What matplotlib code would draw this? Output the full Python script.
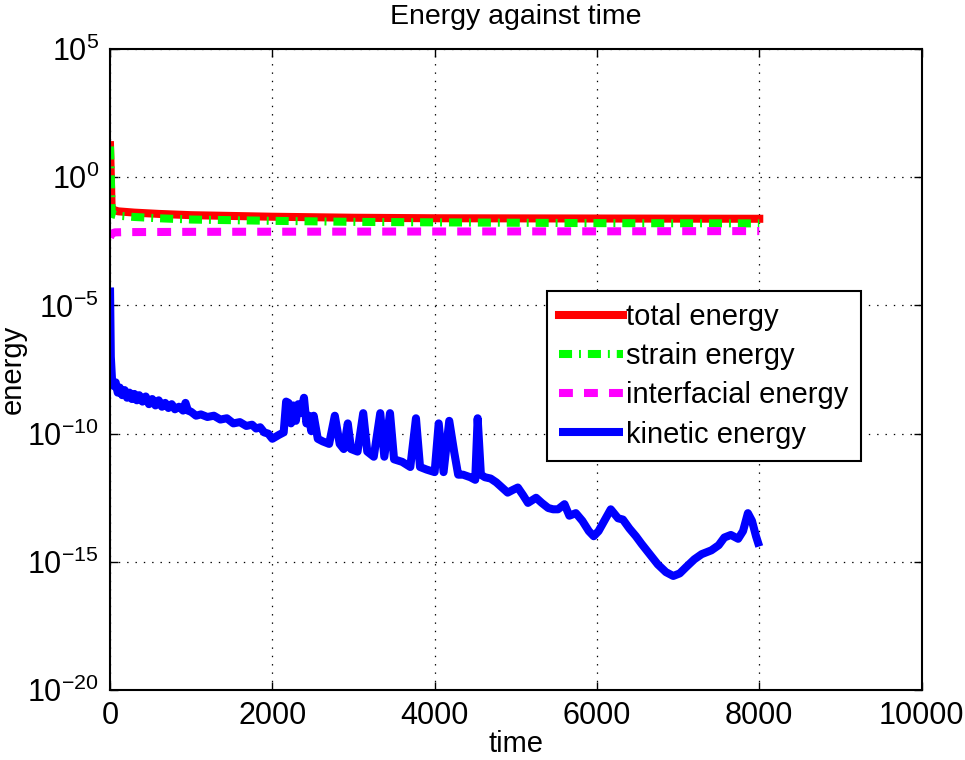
import numpy as np
import matplotlib
matplotlib.use('Agg')
import matplotlib.pyplot as plt
from matplotlib.ticker import FixedLocator, FixedFormatter

plt.rcParams['font.family'] = ['Liberation Sans', 'DejaVu Sans']
plt.rcParams['mathtext.fontset'] = 'custom'
plt.rcParams['mathtext.rm'] = 'Liberation Sans'
plt.rcParams['lines.scale_dashes'] = False

# total / strain / interfacial energy (log10 values)
t_total = [0, 8, 20, 40, 100, 300, 600, 1000, 2000, 3000, 4000, 6000, 8000]
log_total = [1.25, 0.3, -1.2, -1.27, -1.33, -1.38, -1.43, -1.48, -1.54, -1.58, -1.6, -1.61, -1.62]

t_strain = [0, 8, 20, 40, 100, 300, 600, 1000, 2000, 3000, 4000, 6000, 8000]
log_strain = [1.2, 0.2, -1.35, -1.45, -1.5, -1.55, -1.6, -1.65, -1.7, -1.74, -1.76, -1.79, -1.8]

t_inter = [0, 20, 60, 200, 1000, 3000, 6000, 8000]
log_inter = [-2.35, -2.2, -2.15, -2.14, -2.13, -2.12, -2.11, -2.1]

# kinetic energy (log10 values)
t_kin = [0, 10, 25, 50, 70, 95, 120, 150, 180, 210, 240, 270, 300, 330, 360,
         400, 440, 480, 520, 560, 600, 640, 680, 720, 760, 800, 850, 900, 930,
         960, 1000, 1060, 1120, 1200, 1280, 1360, 1440, 1520, 1600, 1680, 1750,
         1800, 1850, 1900, 1950, 2000, 2080, 2140, 2170, 2200, 2230, 2260, 2290,
         2320, 2350, 2390, 2420, 2450, 2480, 2510, 2560, 2620, 2700, 2770, 2830,
         2880, 2930, 2970, 3050, 3120, 3170, 3250, 3330, 3380, 3450, 3500, 3600,
         3700, 3770, 3820, 3900, 4000, 4050, 4110, 4180, 4240, 4290, 4350, 4440,
         4500, 4530, 4570, 4620, 4690, 4760, 4830, 4900, 4960, 5025, 5090, 5150,
         5200, 5250, 5320, 5400, 5460, 5520, 5600, 5660, 5740, 5820, 5900, 5960,
         6020, 6090, 6170, 6260, 6320, 6400, 6480, 6550, 6650, 6750, 6850, 6940,
         7020, 7100, 7200, 7290, 7410, 7500, 7570, 7650, 7740, 7800, 7860, 7910,
         7960, 8000]
log_kin = [-4.3, -7.0, -7.9, -8.15, -8.0, -8.4, -8.2, -8.5, -8.3, -8.6, -8.4,
           -8.65, -8.45, -8.7, -8.5, -8.75, -8.55, -8.85, -8.65, -8.9, -8.7,
           -8.95, -8.8, -9.0, -8.85, -9.05, -8.95, -9.1, -8.8, -9.1, -9.15,
           -9.3, -9.25, -9.35, -9.3, -9.45, -9.4, -9.6, -9.55, -9.7, -9.65,
           -9.8, -9.75, -9.95, -10.0, -10.2, -10.05, -9.95, -8.75, -8.8, -9.6,
           -8.9, -9.5, -8.85, -9.2, -8.6, -9.6, -9.3, -9.9, -9.3, -10.2, -10.3,
           -10.4, -9.3, -10.4, -10.6, -9.6, -10.6, -10.7, -9.2, -10.7, -10.9,
           -9.2, -10.9, -9.2, -11.0, -11.1, -11.3, -9.4, -11.3, -11.4, -11.5,
           -9.6, -11.5, -9.5, -10.7, -11.6, -11.6, -11.7, -11.8, -9.4, -11.6,
           -11.7, -11.75, -11.9, -12.1, -12.3, -12.2, -12.1, -12.4, -12.7,
           -12.6, -12.5, -12.7, -12.9, -12.95, -12.95, -12.75, -13.2, -13.1,
           -13.4, -13.8, -14.0, -13.8, -13.4, -12.95, -13.3, -13.35, -13.7,
           -14.0, -14.3, -14.7, -15.1, -15.4, -15.55, -15.45, -15.2, -14.9,
           -14.7, -14.55, -14.35, -14.05, -13.95, -14.1, -13.8, -13.1, -13.4,
           -14.0, -14.4]

yticks = [1e-20, 1e-15, 1e-10, 1e-5, 1e0, 1e5]
ytick_labels = [r'$\mathregular{10^{-20}}$', r'$\mathregular{10^{-15}}$',
                r'$\mathregular{10^{-10}}$', r'$\mathregular{10^{-5}}$',
                r'$\mathregular{10^{0}}$', r'$\mathregular{10^{5}}$']
xticks = [0, 2000, 4000, 6000, 8000, 10000]

fig = plt.figure(figsize=(9.65, 7.6), dpi=100)
ax = fig.add_axes([0.114, 0.092, 0.841, 0.8435])

lw = 5.8
ax.plot(t_total, 10.0 ** np.array(log_total), color='#ff0000', lw=lw,
        solid_joinstyle='round', label='total energy')
ax.plot(t_strain, 10.0 ** np.array(log_strain), color='#00ff00', lw=lw,
        dashes=(9.4, 5, 1.4, 5), dash_capstyle='butt', label='strain energy')
ax.plot(t_inter, 10.0 ** np.array(log_inter), color='#ff00ff', lw=lw,
        dashes=(10, 8), dash_capstyle='butt', label='interfacial energy')
ax.plot(t_kin, 10.0 ** np.array(log_kin), color='#0000ff', lw=lw,
        solid_joinstyle='round', solid_capstyle='butt', label='kinetic energy')

ax.set_yscale('log')
ax.set_xlim(0, 10000)
ax.set_ylim(1e-20, 1e5)
ax.yaxis.set_major_locator(FixedLocator(yticks))
ax.yaxis.set_major_formatter(FixedFormatter(ytick_labels))
ax.yaxis.set_minor_locator(FixedLocator([]))
ax.set_xticks(xticks)
ax.set_xticklabels([str(v) for v in xticks])

ax.tick_params(axis='both', direction='in', length=6, width=1, labelsize=22,
               top=True, right=True, pad=8)
ax.grid(True, color='black', linestyle=(0, (1, 5)), linewidth=0.9)
for s in ax.spines.values():
    s.set_linewidth(1.5)

ax.set_title('Energy against time', fontsize=20.5, pad=18)
ax.set_xlabel('time', fontsize=21, labelpad=-1)
ax.set_ylabel('energy', fontsize=21, labelpad=0)

leg = ax.legend(loc='upper right', bbox_to_anchor=(0.925, 0.6225),
                borderaxespad=0, fontsize=21, handlelength=2.2,
                handletextpad=0.1, labelspacing=0.38, borderpad=0.42,
                fancybox=False, framealpha=1)
leg.get_frame().set_edgecolor('black')
leg.get_frame().set_linewidth(1.5)

fig.savefig('out.png', dpi=100)
